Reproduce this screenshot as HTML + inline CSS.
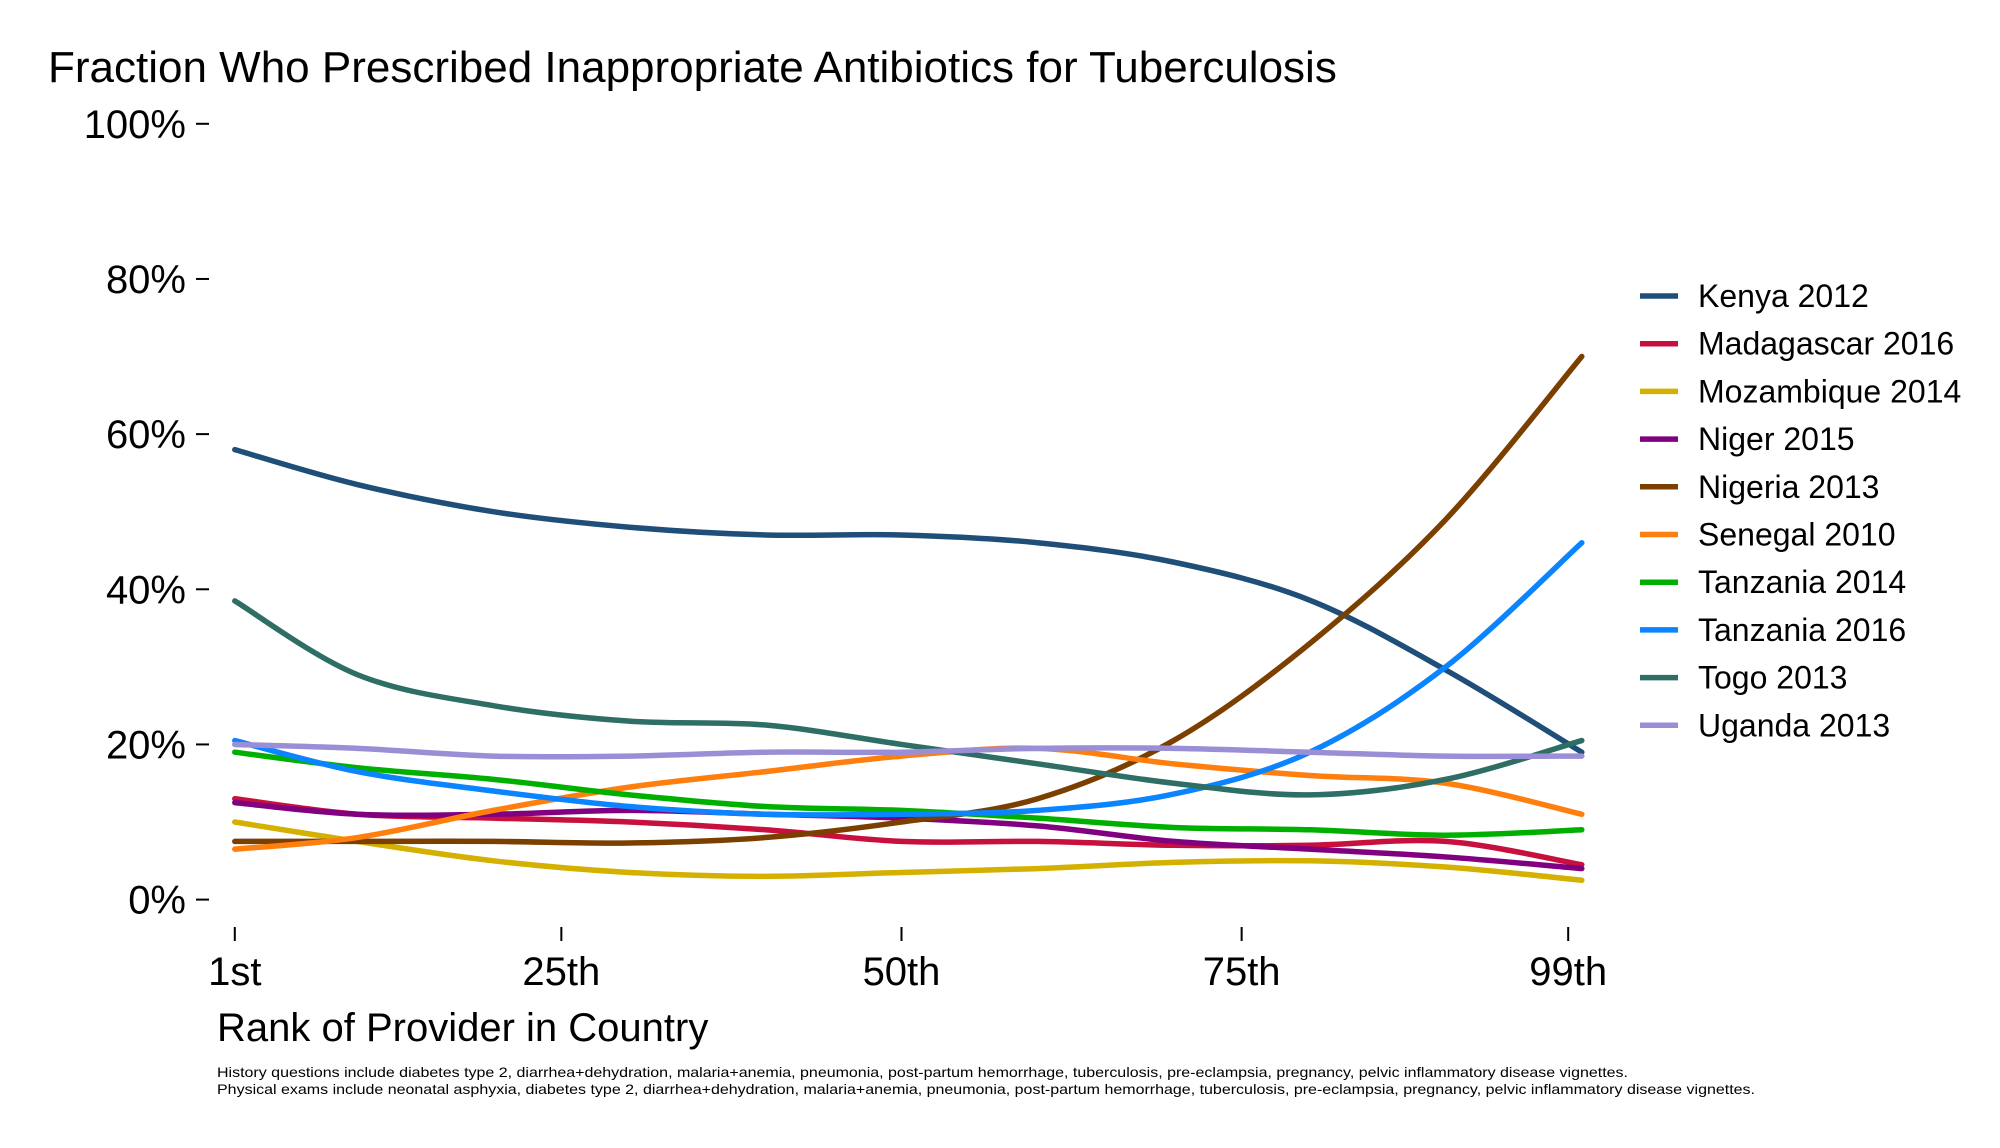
<!DOCTYPE html>
<html><head><meta charset="utf-8"><style>
body{margin:0;background:#fff;}
svg text{font-family:"Liberation Sans",Arial,sans-serif;fill:#000;}
</style></head><body>
<svg id="chart" width="2000" height="1143" xmlns="http://www.w3.org/2000/svg">
<rect width="2000" height="1143" fill="#fff"/>
<text x="48" y="82" font-size="44">Fraction Who Prescribed Inappropriate Antibiotics for Tuberculosis</text>
<g id="yaxis"></g>
<g id="xaxis"></g>
<g id="series"></g>
<g id="legend"></g>
<text x="217" y="1041" font-size="40">Rank of Provider in Country</text>
<text x="217" y="1077" font-size="14" textLength="1411" lengthAdjust="spacingAndGlyphs">History questions include diabetes type 2, diarrhea+dehydration, malaria+anemia, pneumonia, post-partum hemorrhage, tuberculosis, pre-eclampsia, pregnancy, pelvic inflammatory disease vignettes.</text>
<text x="217" y="1094" font-size="14" textLength="1538" lengthAdjust="spacingAndGlyphs">Physical exams include neonatal asphyxia, diabetes type 2, diarrhea+dehydration, malaria+anemia, pneumonia, post-partum hemorrhage, tuberculosis, pre-eclampsia, pregnancy, pelvic inflammatory disease vignettes.</text>
</svg>
<script>
const ranks=[1,10,20,30,40,50,60,70,80,90,100];
const yTicks=[0,20,40,60,80,100];
const yTickLabels=["0%","20%","40%","60%","80%","100%"];
const xTicks=[1,25,50,75,99];
const xTickLabels=["1st","25th","50th","75th","99th"];
const names=["Kenya 2012","Madagascar 2016","Mozambique 2014","Niger 2015","Nigeria 2013","Senegal 2010","Tanzania 2014","Tanzania 2016","Togo 2013","Uganda 2013"];
const colors=["#1f4e79","#c8103e","#d4b000","#800080","#7b3f00","#ff7f0e","#00b000","#0a84ff","#2e6e64","#9a8fd6"];
const kenya=[58,53.5,50,48,47,47,46,43.5,38.6,29.6,19];
const madagascar=[13,11,10.5,10,9,7.5,7.5,7,7,7.5,4.5];
const mozambique=[10,7.5,5,3.5,3,3.5,4,4.8,5,4.2,2.5];
const niger=[12.5,11,11,11.5,11,10.5,9.5,7.5,6.5,5.5,4];
const nigeria=[7.5,7.5,7.5,7.3,8,10,13,20.5,33,49,70];
const senegal=[6.5,8,11.5,14.5,16.5,18.5,19.5,17.5,16,15,11];
const tanzania2014=[19,17,15.5,13.5,12,11.5,10.5,9.3,9,8.3,9];
const tanzania2016=[20.5,16.5,14,12,11,11,11.5,13.6,19,30,46];
const togo=[38.5,29,25,23,22.5,20,17.5,15,13.5,15.5,20.5];
const uganda=[20,19.5,18.5,18.5,19,19,19.5,19.5,19,18.5,18.5];
const seriesData=[kenya,madagascar,mozambique,niger,nigeria,senegal,tanzania2014,tanzania2016,togo,uganda];
const NS="http://www.w3.org/2000/svg";
const xS=r=>234.8+(r-1)*13.606;
const yS=v=>899.6-v*7.758;
function mk(tag,attrs,parent){const e=document.createElementNS(NS,tag);for(const k in attrs)e.setAttribute(k,attrs[k]);parent.appendChild(e);return e;}
const ya=document.getElementById('yaxis');
yTicks.forEach((t,i)=>{
  const l=mk('line',{x1:196,x2:209,y1:yS(t),y2:yS(t),stroke:'#000','stroke-width':2},ya);
  
  
  const tx=mk('text',{x:186,y:yS(t)+14,'font-size':40,'text-anchor':'end'},ya);
  tx.textContent=yTickLabels[i];
  
  
});
const xa=document.getElementById('xaxis');
xTicks.forEach((t,i)=>{
  const l=mk('line',{x1:xS(t),x2:xS(t),y1:927,y2:941,stroke:'#000','stroke-width':2},xa);
  
  
  const tx=mk('text',{x:xS(t),y:985,'font-size':40,'text-anchor':'middle'},xa);
  tx.textContent=xTickLabels[i];
  
  
});
const sg=document.getElementById('series');
seriesData.forEach((vals,si)=>{
  const p=ranks.map((r,i)=>[xS(r),yS(vals[i])]);
  let d='M'+p[0][0]+','+p[0][1];
  for(let i=0;i<p.length-1;i++){
    const p0=p[Math.max(i-1,0)],p1=p[i],p2=p[i+1],p3=p[Math.min(i+2,p.length-1)];
    const c1=[p1[0]+(p2[0]-p0[0])/6,p1[1]+(p2[1]-p0[1])/6];
    const c2=[p2[0]-(p3[0]-p1[0])/6,p2[1]-(p3[1]-p1[1])/6];
    d+=` C${c1[0]},${c1[1]} ${c2[0]},${c2[1]} ${p2[0]},${p2[1]}`;
  }
  const path=mk('path',{d:d,fill:'none',stroke:colors[si],'stroke-width':5.5,'stroke-linecap':'round'},sg);
  
  
});
const lg=document.getElementById('legend');
names.forEach((n,i)=>{
  const y=296+i*47.7;
  const l=mk('line',{x1:1640,x2:1678,y1:y,y2:y,stroke:colors[i],'stroke-width':5.5},lg);
  
  
  const tx=mk('text',{x:1698,y:y+11,'font-size':32},lg);
  tx.textContent=n;
  
  
});
</script>
</body></html>
